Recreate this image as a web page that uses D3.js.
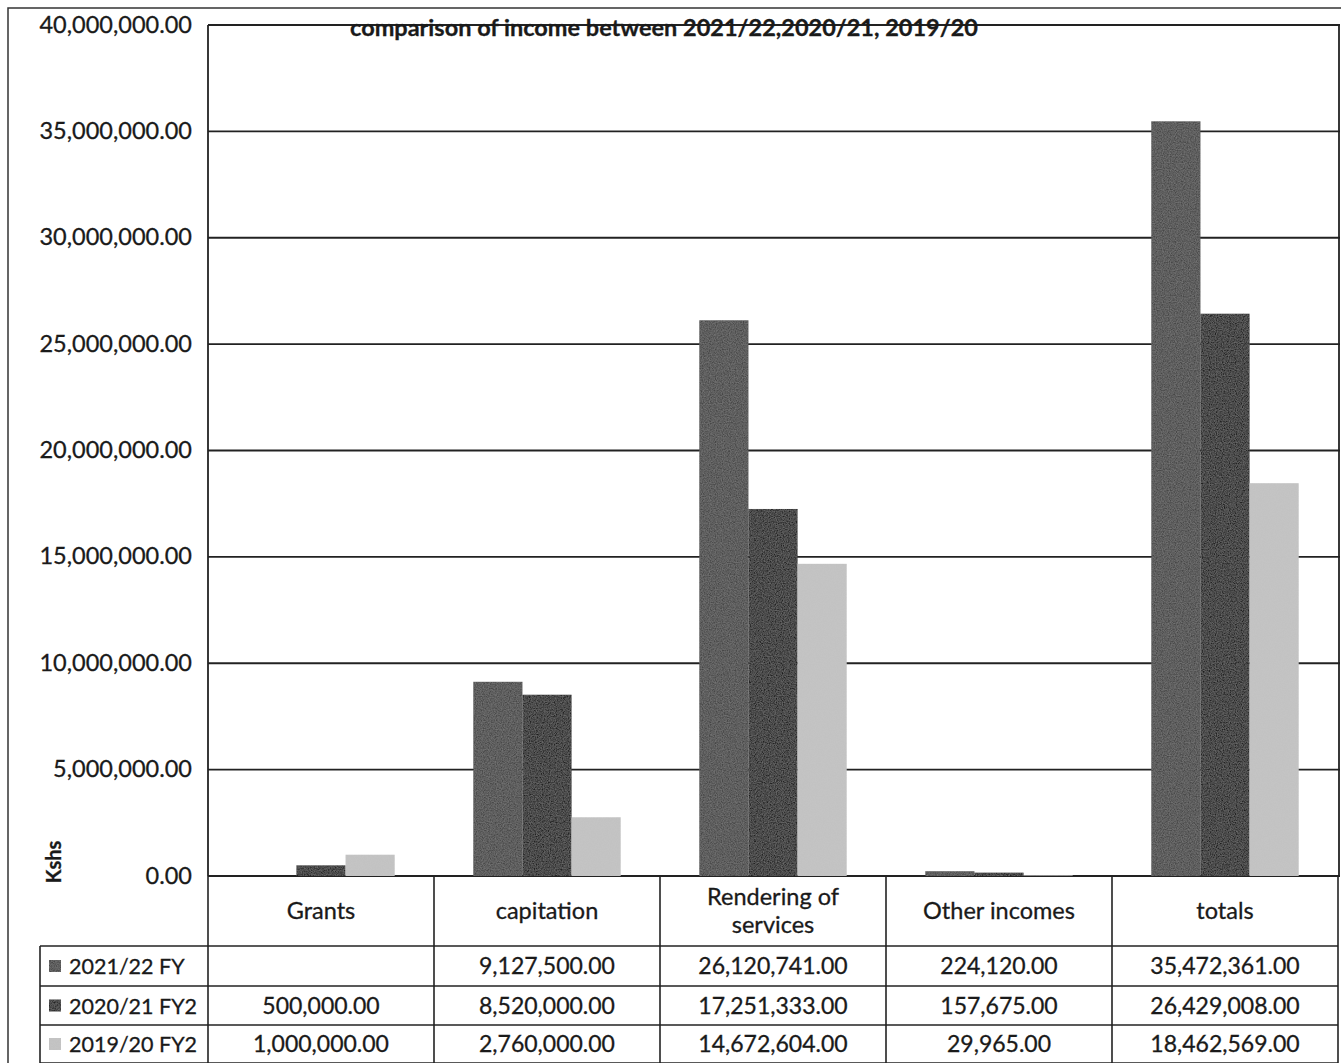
<!DOCTYPE html>
<html>
<head>
<meta charset="utf-8">
<script src="https://cdn.jsdelivr.net/npm/d3@7"></script>
<style>
  html, body { margin: 0; padding: 0; background: #fff; }
  svg { display: block; }
  text { stroke: #1a1a1a; stroke-width: 0.3px; }
</style>
</head>
<body>
<svg id="chart" width="1341" height="1063"></svg>
<script>
// Income categories and the three financial years compared
const categories = ["Grants", "capitation", "Rendering of services", "Other incomes", "totals"];
const categoryLines = [["Grants"], ["capitation"], ["Rendering of", "services"], ["Other incomes"], ["totals"]];
const seriesNames = ["2021/22 FY", "2020/21 FY2", "2019/20 FY2"];
const income2122 = [null, 9127500, 26120741, 224120, 35472361];
const income2021 = [500000, 8520000, 17251333, 157675, 26429008];
const income1920 = [1000000, 2760000, 14672604, 29965, 18462569];
const yTicks = [0, 5000000, 10000000, 15000000, 20000000, 25000000, 30000000, 35000000, 40000000];
const titleText = "comparison of income between  2021/22,2020/21, 2019/20";
const axisTitle = "Kshs";

const seriesValues = [income2122, income2021, income1920];
const seriesFill = ["#474747", "#222222", "#c4c4c4"];
const font = "Lato, 'Open Sans', sans-serif";
const ink = "#1a1a1a";

const svg = d3.select("#chart");

// grain for the printed bars
const defs = svg.append("defs");
const grain = defs.append("filter").attr("id", "grain").attr("x", 0).attr("y", 0).attr("width", 1).attr("height", 1);
grain.append("feTurbulence").attr("type", "fractalNoise").attr("baseFrequency", 0.85).attr("numOctaves", 2).attr("seed", 3).attr("result", "noise");
grain.append("feColorMatrix").attr("in", "noise").attr("type", "matrix")
  .attr("values", "0 0 0 0 0.5  0 0 0 0 0.5  0 0 0 0 0.5  0 0 0 0.4 -0.08").attr("result", "n2");
grain.append("feComposite").attr("in", "n2").attr("in2", "SourceGraphic").attr("operator", "in").attr("result", "n3");
grain.append("feMerge").selectAll("feMergeNode").data(["SourceGraphic", "n3"]).join("feMergeNode").attr("in", d => d);

const plot = { left: 208, right: 1338, top: 25, bottom: 876 };

const x = d3.scaleBand().domain(categories).range([plot.left, plot.right]).paddingInner(0).paddingOuter(0);
const xs = d3.scaleBand().domain(seriesNames).range([0, x.bandwidth()]).paddingInner(0).paddingOuter(0.8);
const y = d3.scaleLinear().domain([0, 40000000]).range([plot.bottom, plot.top]);

// outer chart frame
svg.append("path").attr("d", "M8,1063 V8 H1341").attr("fill", "none").attr("stroke", "#333").attr("stroke-width", 1.5);

// horizontal gridlines
svg.append("g").selectAll("line").data(yTicks).join("line")
  .attr("x1", plot.left).attr("x2", plot.right + 2)
  .attr("y1", d => y(d)).attr("y2", d => y(d))
  .attr("stroke", "#222").attr("stroke-width", 1.8);

// plot area frame (left and right)
svg.append("line").attr("x1", plot.left).attr("x2", plot.left).attr("y1", y(40000000)).attr("y2", plot.bottom)
  .attr("stroke", "#222").attr("stroke-width", 1.8);
svg.append("line").attr("x1", plot.right + 1).attr("x2", plot.right + 1).attr("y1", y(40000000)).attr("y2", plot.bottom)
  .attr("stroke", "#222").attr("stroke-width", 1.8);

// y axis labels
const yAxis = d3.axisLeft(y).tickValues(yTicks).tickFormat(d3.format(",.2f")).tickSize(0).tickPadding(16);
const yg = svg.append("g").attr("transform", `translate(${plot.left},0)`).call(yAxis);
yg.select(".domain").remove();
yg.selectAll("text").attr("font-family", font).attr("font-size", 23.5).attr("fill", ink).attr("dy", "0.3em");

// bars
seriesNames.forEach((s, si) => {
  svg.append("g").attr("filter", "url(#grain)").selectAll("rect")
    .data(categories.map((c, ci) => ({ c, v: seriesValues[si][ci] })).filter(d => d.v != null))
    .join("rect")
    .attr("x", d => x(d.c) + xs(s))
    .attr("width", xs.bandwidth())
    .attr("y", d => y(d.v))
    .attr("height", d => y(0) - y(d.v))
    .attr("fill", seriesFill[si]);
});

// title
svg.append("text").attr("x", 664).attr("y", 36).attr("text-anchor", "middle")
  .attr("font-family", font).attr("font-weight", "bold").attr("font-size", 23.5).attr("fill", ink)
  .text(titleText);

// axis title
svg.append("text").attr("transform", "translate(61,862) rotate(-90)").attr("text-anchor", "middle")
  .attr("font-family", font).attr("font-weight", "bold").attr("font-size", 20).attr("fill", ink)
  .text(axisTitle);

// data table
const tableTop = plot.bottom;
const headerBottom = 946;
const rowEdges = [946, 986, 1025, 1063];
const legendLeft = 40;
const tg = svg.append("g").attr("stroke", "#222").attr("stroke-width", 1.6);
const colEdges = categories.map(c => x(c)).concat([plot.right]);
colEdges.forEach(cx => {
  tg.append("line").attr("x1", cx).attr("x2", cx).attr("y1", tableTop).attr("y2", 1063);
});
tg.append("line").attr("x1", legendLeft).attr("x2", legendLeft).attr("y1", headerBottom).attr("y2", 1063);
rowEdges.forEach(ry => {
  tg.append("line").attr("x1", legendLeft).attr("x2", plot.right).attr("y1", ry).attr("y2", ry);
});

// category headers
categories.forEach((c, ci) => {
  const lines = categoryLines[ci];
  const cy = (tableTop + headerBottom) / 2;
  const t = svg.append("text").attr("text-anchor", "middle").attr("font-family", font).attr("font-size", 23.5).attr("fill", ink);
  lines.forEach((ln, li) => {
    t.append("tspan").attr("x", x(c) + x.bandwidth() / 2)
      .attr("y", cy + 8 + (li - (lines.length - 1) / 2) * 28).text(ln);
  });
});

// series rows
const fmt = d3.format(",.2f");
seriesNames.forEach((s, si) => {
  const cy = (rowEdges[si] + rowEdges[si + 1]) / 2;
  svg.append("rect").attr("x", 49).attr("y", cy - 6).attr("width", 12).attr("height", 12)
    .attr("fill", seriesFill[si]).attr("filter", "url(#grain)");
  svg.append("text").attr("x", 69).attr("y", cy + 8).attr("font-family", font).attr("font-size", 21.5).attr("fill", ink).text(s);
  categories.forEach((c, ci) => {
    const v = seriesValues[si][ci];
    if (v == null) return;
    svg.append("text").attr("x", x(c) + x.bandwidth() / 2).attr("y", cy + 8).attr("text-anchor", "middle")
      .attr("font-family", font).attr("font-size", 23).attr("fill", ink).text(fmt(v));
  });
});
</script>
</body>
</html>
